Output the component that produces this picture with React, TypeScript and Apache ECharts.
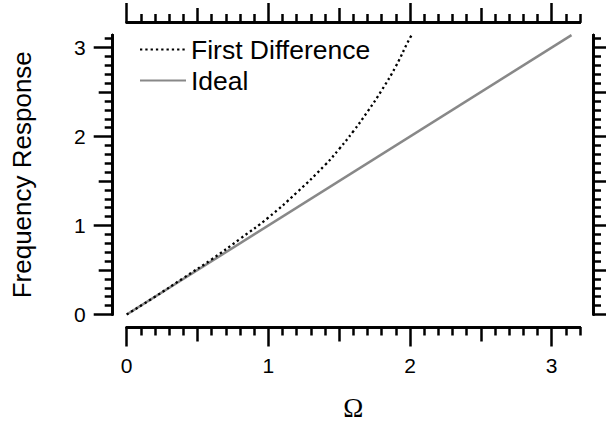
import React, { useEffect, useRef } from "react";
import * as echarts from "echarts";

// Data
const seriesNames = ["First Difference", "Ideal"];
const firstDifference: [number, number][] = [
  [0, 0], [0.2, 0.2], [0.4, 0.41], [0.6, 0.62], [0.8, 0.85], [1.0, 1.09],
  [1.2, 1.37], [1.4, 1.68], [1.5, 1.86], [1.6, 2.06], [1.7, 2.28],
  [1.8, 2.52], [1.9, 2.79], [2.0, 3.11], [2.02, 3.15],
];
const ideal: [number, number][] = [[0, 0], [3.14, 3.14]];

const xMajorTicks = [0, 1, 2, 3];
const xHalfTicks = [0.5, 1.5, 2.5];
const yMajorTicks = [0, 1, 2, 3];
const yHalfTicks = [0.5, 1.5, 2.5];
const X_MAX = 3.2;
const Y_MAX = 3.1416;

function minorTicks(maxTenths: number): number[] {
  const out: number[] = [];
  for (let i = 1; i <= maxTenths; i++) if (i % 5 !== 0) out.push(i / 10);
  return out;
}
const xMinorTicks = minorTicks(32);
const yMinorTicks = minorTicks(31);

const SANS = "Liberation Sans, Arial, Helvetica, sans-serif";
const SERIF = "Liberation Serif, Times New Roman, serif";
const OFF = 13;
const INK = "#000";

function axis(
  kind: "x" | "y",
  position: string,
  ticks: number[],
  len: number,
  labels: number[] | null,
  extra: any = {}
) {
  return {
    type: "value",
    position,
    min: 0,
    max: kind === "x" ? X_MAX : Y_MAX,
    offset: kind === "y" && position === "left" ? 14 : OFF,
    axisLine: { show: true, onZero: false, lineStyle: { color: INK, width: 2.5 } },
    axisTick: { show: true, customValues: ticks, length: len, lineStyle: { color: INK, width: 2.5 } },
    axisLabel: labels
      ? {
          show: true,
          customValues: labels,
          fontSize: 21,
          fontFamily: SANS,
          color: INK,
          margin: 27,
        }
      : { show: false },
    splitLine: { show: false },
    ...extra,
  };
}

export default function App() {
  const ref = useRef<HTMLDivElement>(null);
  useEffect(() => {
    document.body.style.margin = "0";
    const chart = echarts.init(ref.current!, undefined, { renderer: "svg" });
    chart.setOption({
      animation: false,
      backgroundColor: "#fff",
      grid: { left: 126.7, top: 35, width: 453.3, height: 279.5, outerBoundsMode: "none" },
      legend: {
        orient: "vertical",
        left: 134,
        top: 31,
        itemWidth: 46,
        itemHeight: 14,
        itemGap: 4,
        itemStyle: { opacity: 0 },
        textStyle: { fontSize: 26.5, fontFamily: SANS, color: INK },
        data: seriesNames,
      },
      xAxis: [
        axis("x", "bottom", xMajorTicks, 19, xMajorTicks, {
          name: "Ω",
          nameLocation: "middle",
          nameGap: 67,
          nameTextStyle: { fontSize: 27, fontFamily: SERIF, color: INK },
        }),
        axis("x", "bottom", xHalfTicks, 14, null),
        axis("x", "bottom", xMinorTicks, 8, null),
        axis("x", "top", xMajorTicks, 19, null),
        axis("x", "top", xHalfTicks, 14, null),
        axis("x", "top", xMinorTicks, 8, null),
      ],
      yAxis: [
        axis("y", "left", yMajorTicks, 19, yMajorTicks, {
          name: "Frequency Response",
          nameLocation: "middle",
          nameRotate: 90,
          nameGap: 78,
          nameTextStyle: { fontSize: 26, fontFamily: SANS, color: INK },
        }),
        axis("y", "left", yHalfTicks, 14, null),
        axis("y", "left", yMinorTicks, 8, null),
        axis("y", "right", yMajorTicks, 19, null),
        axis("y", "right", yHalfTicks, 14, null),
        axis("y", "right", yMinorTicks, 8, null),
      ],
      series: [
        {
          name: seriesNames[0],
          type: "line",
          xAxisIndex: 0,
          yAxisIndex: 0,
          data: firstDifference,
          smooth: true,
          symbol: "none",
          lineStyle: { color: INK, width: 2.3, type: [2.3, 3] },
          itemStyle: { color: INK },
          z: 3,
        },
        {
          name: seriesNames[1],
          type: "line",
          xAxisIndex: 0,
          yAxisIndex: 0,
          data: ideal,
          symbol: "none",
          lineStyle: { color: "#888", width: 2.5 },
          itemStyle: { color: "#888" },
          z: 2,
        },
      ],
    });
    return () => chart.dispose();
  }, []);
  return (
    <div
      ref={ref}
      style={{ position: "absolute", left: 0, top: 0, width: 606, height: 424 }}
    />
  );
}
